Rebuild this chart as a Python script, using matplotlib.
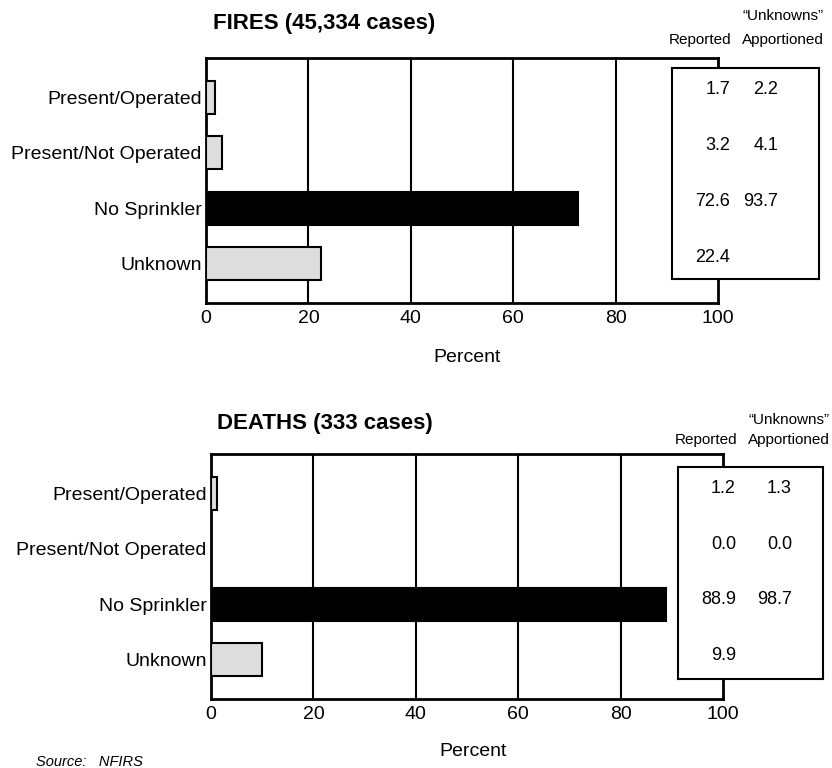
import matplotlib
matplotlib.use("Agg")
import matplotlib.pyplot as plt
from matplotlib import font_manager

# data
categories = ["Present/Operated", "Present/Not Operated", "No Sprinkler", "Unknown"]
fires_reported = [1.7, 3.2, 72.6, 22.4]
fires_apportioned = ["2.2", "4.1", "93.7", ""]
deaths_reported = [1.2, 0.0, 88.9, 9.9]
deaths_apportioned = ["1.3", "0.0", "98.7", ""]
fires_title = "FIRES (45,334 cases)"
deaths_title = "DEATHS (333 cases)"
x_ticks = [0, 20, 40, 60, 80, 100]

names = {f.name for f in font_manager.fontManager.ttflist}
narrow = "Liberation Sans Narrow" if "Liberation Sans Narrow" in names else "Liberation Sans"
plt.rcParams["font.family"] = [narrow, "DejaVu Sans"]

W, H = 832, 768
fig = plt.figure(figsize=(W / 100, H / 100), dpi=100)


def px_rect(x0, y0, x1, y1):
    # pixel box (top-left origin) -> figure fraction
    return [x0 / W, 1 - y1 / H, (x1 - x0) / W, (y1 - y0) / H]


def panel(ax_px, box_px, values, apportioned, title, title_xy, pct_xy, head_x, head_y):
    ax = fig.add_axes(px_rect(*ax_px))
    colors = ["#dddddd", "#dddddd", "black", "#dddddd"]
    ypos = list(range(len(categories)))
    ax.barh(ypos, values, height=0.6, color=colors, edgecolor="black", linewidth=1.5, zorder=3)
    ax.set_xlim(0, 100)
    ax.set_ylim(3.72, -0.72)
    ax.set_yticks(ypos)
    ax.set_yticklabels(categories, fontsize=14)
    ax.set_xticks(x_ticks)
    ax.set_xticklabels([str(t) for t in x_ticks], fontsize=14)
    ax.tick_params(length=0, pad=5)
    ax.tick_params(axis="y", pad=3)
    for v in x_ticks[1:-1]:
        ax.axvline(v, color="black", linewidth=1.5, zorder=1)
    for s in ax.spines.values():
        s.set_linewidth(2)

    fig.text(title_xy[0] / W, 1 - title_xy[1] / H, title, fontsize=16, fontweight="bold",
             ha="left", va="center")
    fig.text(pct_xy[0] / W, 1 - pct_xy[1] / H, "Percent", fontsize=14, ha="center", va="center")

    # value box drawn over the right side of the plot
    bx = fig.add_axes(px_rect(*box_px))
    bx.set_xticks([])
    bx.set_yticks([])
    bx.set_facecolor("white")
    for s in bx.spines.values():
        s.set_linewidth(1.5)
    bx.set_xlim(box_px[0], box_px[2])
    bx.set_ylim(box_px[3], box_px[1])
    row_y = [box_px[1] + 22, box_px[1] + 78, box_px[1] + 133, box_px[1] + 189]
    for y, v, a in zip(row_y, values, apportioned):
        bx.text(head_x[0] + 30, y, f"{v:.1f}", fontsize=13, ha="right", va="center")
        bx.text(head_x[2], y, a, fontsize=13, ha="right", va="center")

    fig.text(head_x[1] / W, 1 - head_y[0] / H, "\u201cUnknowns\u201d", fontsize=11, ha="center", va="center")
    fig.text(head_x[0] / W, 1 - head_y[1] / H, "Reported", fontsize=11, ha="center", va="center")
    fig.text(head_x[1] / W, 1 - head_y[1] / H, "Apportioned", fontsize=11, ha="center", va="center")
    return ax


panel((206, 58, 718, 303), (672, 68, 819, 279), fires_reported, fires_apportioned,
      fires_title, (213, 24), (467, 357), (700, 783, 778), (16, 40))
panel((211, 454, 723, 699), (678, 467, 823, 679), deaths_reported, deaths_apportioned,
      deaths_title, (217, 423), (473, 751), (706, 789, 792), (420, 440))

fig.text(36 / W, 1 - 762 / H, "Source:   NFIRS", fontsize=10.5, style="italic", ha="left", va="center")

fig.savefig("out.png", dpi=100)
